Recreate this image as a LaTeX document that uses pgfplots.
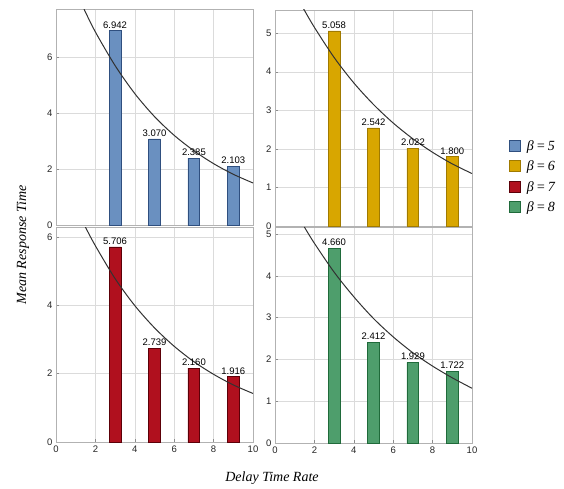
\documentclass[border=0pt]{standalone}
\usepackage{pgfplots}
\pgfplotsset{compat=1.18}
\usepackage{fontspec}
\setmainfont{Liberation Sans}
\newfontfamily\seriffont{Liberation Serif}
\definecolor{bfill}{RGB}{106,144,192}
\definecolor{bdraw}{RGB}{47,79,127}
\definecolor{gfill}{RGB}{216,166,0}
\definecolor{gdraw}{RGB}{160,122,0}
\definecolor{rfill}{RGB}{176,16,30}
\definecolor{rdraw}{RGB}{92,0,8}
\definecolor{nfill}{RGB}{78,158,108}
\definecolor{ndraw}{RGB}{31,106,58}
\definecolor{curve}{RGB}{50,50,50}
\pgfplotsset{
  panel/.style={
    scale only axis, width=197pt, height=216pt,
    anchor=south west,
    xmin=0, xmax=10, ymin=0,
    axis line style={draw=black!30},
    grid=major, grid style={draw=black!14},
    xtick={0,2,...,10},
    tick pos=left,
    tick style={draw=black!45, thin},
    major tick length=3pt,
    tick label style={font=\fontsize{9.5}{11}\selectfont, text=black!85},
    /pgf/number format/assume math mode=true,
  },
  bars/.style={
    ybar, bar width=0.6, line width=0.8pt,
    nodes near coords={\pgfmathprintnumber[fixed,fixed zerofill,precision=3,assume math mode=true]{\pgfplotspointmeta}},
    every node near coord/.append style={font=\fontsize{9.5}{11}\selectfont, text=black, inner sep=2pt},
  },
  trend/.style={no marks, smooth, draw=curve, line width=1pt},
}
\begin{document}
\begin{tikzpicture}
\useasboundingbox (0,0) rectangle (564pt,488pt);
% top left
\begin{axis}[panel, at={(56pt,263pt)}, ymax=7.71, ytick={0,2,4,6},
  xticklabels={}, xtick style={draw=none}]
\addplot[bars, fill=bfill, draw=bdraw] coordinates {(3,6.942) (5,3.070) (7,2.385) (9,2.103)};
\addplot[trend] coordinates {(1.42,7.71) (2,6.89) (3,5.69) (4,4.69) (5,3.87) (6,3.20) (7,2.65) (8,2.19) (9,1.81) (10,1.50)};
\end{axis}
% top right
\begin{axis}[panel, at={(275pt,262pt)}, ymax=5.60, ytick={0,1,2,3,4,5},
  xticklabels={}, xtick style={draw=none},
  legend style={draw=none, fill=none, at={(1.31,0.227)}, anchor=center,
    font=\seriffont\itshape\fontsize{14}{16}\selectfont, row sep=5pt},
  legend cell align=left,
  legend image code/.code={\draw[#1] (0pt,-5pt) rectangle (11pt,6pt);}]
\addlegendimage{fill=bfill, draw=bdraw, line width=0.6pt}
\addlegendentry{\hspace{4pt}β\,=\,5}
\addlegendimage{fill=gfill, draw=gdraw, line width=0.6pt}
\addlegendentry{\hspace{4pt}β\,=\,6}
\addlegendimage{fill=rfill, draw=rdraw, line width=0.6pt}
\addlegendentry{\hspace{4pt}β\,=\,7}
\addlegendimage{fill=nfill, draw=ndraw, line width=0.6pt}
\addlegendentry{\hspace{4pt}β\,=\,8}
\addplot[bars, fill=gfill, draw=gdraw, forget plot] coordinates {(3,5.058) (5,2.542) (7,2.022) (9,1.800)};
\addplot[trend, forget plot] coordinates {(1.44,5.64) (2,5.15) (3,4.37) (4,3.71) (5,3.15) (6,2.67) (7,2.26) (8,1.91) (9,1.61) (10,1.36)};
\end{axis}
% bottom left
\begin{axis}[panel, at={(56pt,46pt)}, height=215pt, ymax=6.29, ytick={0,2,4,6}]
\addplot[bars, fill=rfill, draw=rdraw] coordinates {(3,5.706) (5,2.739) (7,2.160) (9,1.916)};
\addplot[trend] coordinates {(1.49,6.29) (2,5.74) (3,4.78) (4,3.99) (5,3.34) (6,2.80) (7,2.35) (8,1.98) (9,1.67) (10,1.42)};
\end{axis}
% bottom right
\begin{axis}[panel, at={(275pt,45pt)}, ymax=5.17, ytick={0,1,2,3,4,5}]
\addplot[bars, fill=nfill, draw=ndraw] coordinates {(3,4.660) (5,2.412) (7,1.929) (9,1.722)};
\addplot[trend] coordinates {(1.49,5.17) (2,4.78) (3,4.09) (4,3.50) (5,2.98) (6,2.54) (7,2.16) (8,1.84) (9,1.56) (10,1.31)};
\end{axis}
\node[rotate=90, font=\seriffont\itshape\fontsize{14}{16}\selectfont] at (23pt,243pt) {Mean Response Time};
\node[font=\seriffont\itshape\fontsize{14}{16}\selectfont] at (272pt,10pt) {Delay Time Rate};
\end{tikzpicture}
\end{document}
